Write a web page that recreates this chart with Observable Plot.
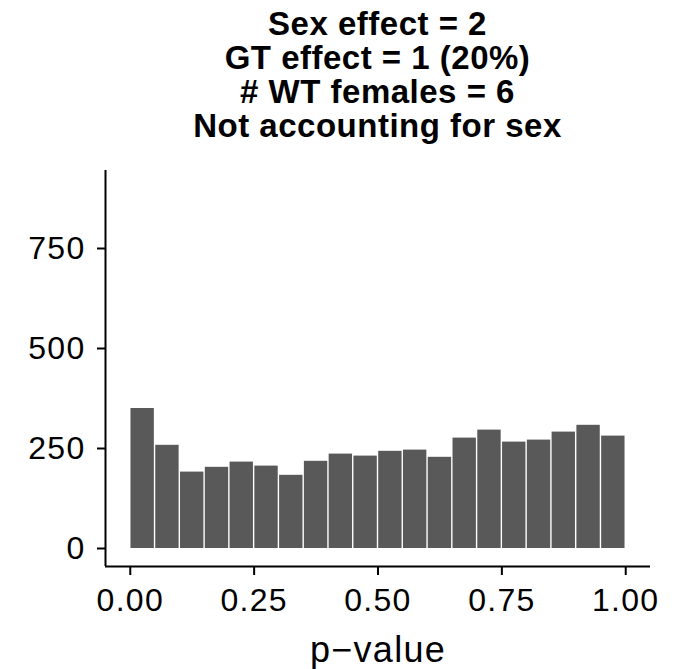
<!DOCTYPE html>
<html>
<head>
<meta charset="utf-8">
<script src="https://cdn.jsdelivr.net/npm/d3@7"></script>
<script src="https://cdn.jsdelivr.net/npm/@observablehq/plot@0.6"></script>
<style>
  html, body { margin: 0; padding: 0; background: #fff; }
  #title {
    box-sizing: border-box;
    width: 681px; height: 150px;
    padding: 7px 31px 0 105px;
    text-align: center;
    font-family: "Liberation Sans", Arial, Helvetica, sans-serif;
    font-weight: bold; font-size: 33px; line-height: 34px;
    letter-spacing: 0.5px; color: #000;
  }
</style>
</head>
<body>
<div id="title"></div>
<div id="chart"></div>
<script>
const titleLines = ["Sex effect = 2", "GT effect = 1 (20%)", "# WT females = 6", "Not accounting for sex"];
const binStarts = [0.00, 0.05, 0.10, 0.15, 0.20, 0.25, 0.30, 0.35, 0.40, 0.45,
                   0.50, 0.55, 0.60, 0.65, 0.70, 0.75, 0.80, 0.85, 0.90, 0.95];
const binWidth = 0.05;
const counts = [350, 258, 191, 203, 216, 206, 183, 218, 236, 231,
                243, 246, 228, 276, 296, 266, 271, 291, 308, 281];
const xTicks = [0, 0.25, 0.5, 0.75, 1];
const yTicks = [0, 250, 500, 750];
const xLabel = "p\u2212value";

document.getElementById("title").innerHTML = titleLines.map(t => `<div>${t.replace(/&/g,"&amp;")}</div>`).join("");

const bins = binStarts.map((s, i) => ({x1: s, x2: s + binWidth, count: counts[i]}));

const chart = Plot.plot({
  width: 681,
  height: 519,
  marginTop: 20,
  marginBottom: 103,
  marginLeft: 105,
  marginRight: 31,
  style: {fontFamily: "'Liberation Sans', Arial, Helvetica, sans-serif", fontSize: "32px", color: "#000", background: "#fff", letterSpacing: "0.04em"},
  x: {domain: [-0.05, 1.05]},
  y: {domain: [-45, 945]},
  marks: [
    Plot.rectY(bins, {x1: "x1", x2: "x2", y1: 0, y2: "count", fill: "#595959", insetLeft: 0.7, insetRight: 0.7}),
    Plot.axisX({ticks: xTicks, tickFormat: d3.format(".2f"), tickSize: 9, tickPadding: 13, strokeWidth: 2, stroke: "#000", fill: "#000", label: null}),
    Plot.axisY({ticks: yTicks, tickSize: 8, tickPadding: 12, strokeWidth: 2, stroke: "#000", fill: "#000", label: null}),
    Plot.ruleX([-0.05], {stroke: "#000", strokeWidth: 2}),
    Plot.ruleY([-45], {stroke: "#000", strokeWidth: 2}),
    Plot.text([xLabel], {frameAnchor: "bottom", dy: 84, fontSize: 36, fill: "#000", lineAnchor: "middle"})
  ]
});
document.getElementById("chart").appendChild(chart);
</script>
</body>
</html>
